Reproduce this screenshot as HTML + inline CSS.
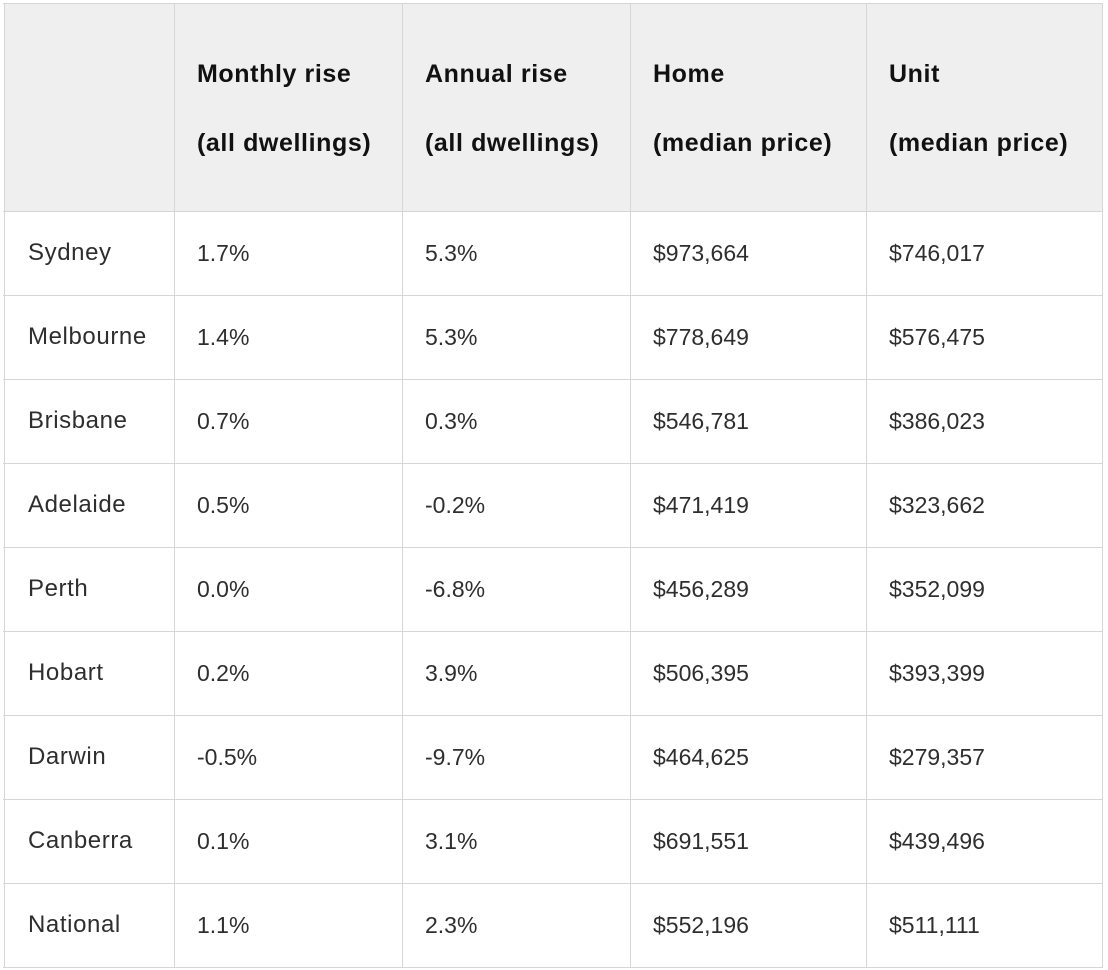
<!DOCTYPE html>
<html><head><style>
body{margin:0;background:#fff;width:1108px;height:970px;position:relative;overflow:hidden;font-family:"Liberation Sans",sans-serif;}
.hd{position:absolute;left:4px;top:3px;width:1098px;height:208px;background:#efefef;}
.h{position:absolute;left:0;height:1px;background:#d6d6d6;width:1100px;left:3px}
.v{position:absolute;top:3px;width:1px;background:#d6d6d6;height:965px}
.t{position:absolute;font-size:23px;color:#2e2e2e;line-height:26px;white-space:nowrap}
.n{font-size:24px;letter-spacing:0.6px}
.b{font-size:25px;color:#111;font-weight:bold;letter-spacing:0.6px}
</style></head><body>
<div class="hd"></div>
<div class="h" style="top:3px"></div><div class="h" style="top:211px"></div><div class="h" style="top:295px"></div><div class="h" style="top:379px"></div><div class="h" style="top:463px"></div><div class="h" style="top:547px"></div><div class="h" style="top:631px"></div><div class="h" style="top:715px"></div><div class="h" style="top:799px"></div><div class="h" style="top:883px"></div><div class="h" style="top:967px"></div>
<div class="v" style="left:4px"></div><div class="v" style="left:174px"></div><div class="v" style="left:402px"></div><div class="v" style="left:630px"></div><div class="v" style="left:866px"></div><div class="v" style="left:1102px"></div>
<div class="t b" style="left:197px;top:61px">Monthly rise</div><div class="t b" style="left:197px;top:130px">(all dwellings)</div>
<div class="t b" style="left:425px;top:61px">Annual rise</div><div class="t b" style="left:425px;top:130px">(all dwellings)</div>
<div class="t b" style="left:653px;top:61px">Home</div><div class="t b" style="left:653px;top:130px">(median price)</div>
<div class="t b" style="left:889px;top:61px">Unit</div><div class="t b" style="left:889px;top:130px">(median price)</div>
<script>
const rows=[["Sydney","1.7%","5.3%","$973,664","$746,017"],["Melbourne","1.4%","5.3%","$778,649","$576,475"],["Brisbane","0.7%","0.3%","$546,781","$386,023"],["Adelaide","0.5%","-0.2%","$471,419","$323,662"],["Perth","0.0%","-6.8%","$456,289","$352,099"],["Hobart","0.2%","3.9%","$506,395","$393,399"],["Darwin","-0.5%","-9.7%","$464,625","$279,357"],["Canberra","0.1%","3.1%","$691,551","$439,496"],["National","1.1%","2.3%","$552,196","$511,111"]];
const xs=[28,197,425,653,889];
rows.forEach((r,i)=>r.forEach((c,j)=>{const d=document.createElement('div');d.className=j==0?'t n':'t';d.style.left=xs[j]+'px';d.style.top=(240+i*84)+'px';d.textContent=c;document.body.appendChild(d);}));
</script>
</body></html>
